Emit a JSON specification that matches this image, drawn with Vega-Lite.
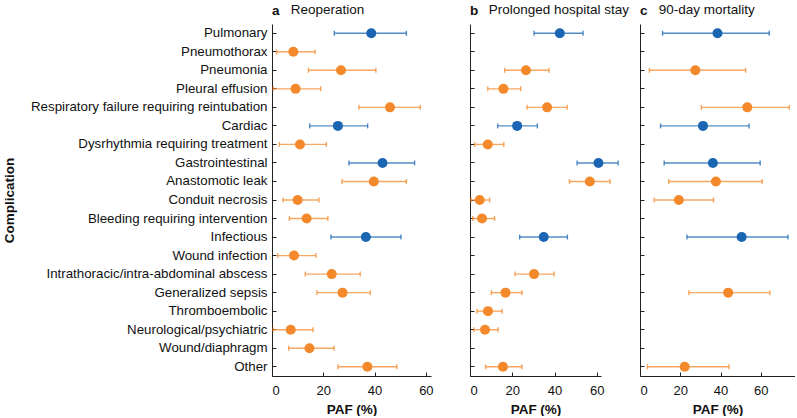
{
  "$schema": "https://vega.github.io/schema/vega-lite/v6.json",
  "padding": {"left": 2, "top": 2, "right": 0, "bottom": 0},
  "bounds": "flush",
  "spacing": 39,
  "config": {
    "font": "Liberation Sans",
    "view": {"stroke": null},
    "axis": {
      "domainColor": "#222222",
      "tickColor": "#222222",
      "labelColor": "#111111",
      "titleColor": "#111111",
      "labelFontSize": 13,
      "titleFontSize": 13.5,
      "titleFontWeight": "bold",
      "grid": false,
      "tickSize": -4,
      "labelLimit": 400
    },
    "title": {"anchor": "start", "frame": "group", "fontSize": 13.5, "fontWeight": "bold", "color": "#111111", "subtitleFontSize": 13.5, "subtitleColor": "#111111", "subtitlePadding": -14.5, "offset": 6}
  },
  "datasets": {
    "d": [
      {"outcome": "a", "comp": "Pulmonary", "kind": "cat", "paf": 38.7, "lo": 24.3, "hi": 52.4},
      {"outcome": "a", "comp": "Pneumothorax", "kind": "sub", "paf": 8.3, "lo": 1.8, "hi": 16.8},
      {"outcome": "a", "comp": "Pneumonia", "kind": "sub", "paf": 26.9, "lo": 14.2, "hi": 40.5},
      {"outcome": "a", "comp": "Pleural effusion", "kind": "sub", "paf": 9.2, "lo": 0.5, "hi": 19.0},
      {"outcome": "a", "comp": "Respiratory failure requiring reintubation", "kind": "sub", "paf": 46.0, "lo": 33.9, "hi": 57.8},
      {"outcome": "a", "comp": "Cardiac", "kind": "cat", "paf": 25.7, "lo": 14.7, "hi": 37.3},
      {"outcome": "a", "comp": "Dysrhythmia requiring treatment", "kind": "sub", "paf": 10.9, "lo": 2.9, "hi": 21.2},
      {"outcome": "a", "comp": "Gastrointestinal", "kind": "cat", "paf": 43.1, "lo": 30.0, "hi": 55.6},
      {"outcome": "a", "comp": "Anastomotic leak", "kind": "sub", "paf": 39.7, "lo": 27.3, "hi": 52.4},
      {"outcome": "a", "comp": "Conduit necrosis", "kind": "sub", "paf": 10.0, "lo": 4.3, "hi": 18.3},
      {"outcome": "a", "comp": "Bleeding requiring intervention", "kind": "sub", "paf": 13.5, "lo": 6.8, "hi": 21.8},
      {"outcome": "a", "comp": "Infectious", "kind": "cat", "paf": 36.6, "lo": 23.0, "hi": 50.3},
      {"outcome": "a", "comp": "Wound infection", "kind": "sub", "paf": 8.6, "lo": 2.2, "hi": 17.1},
      {"outcome": "a", "comp": "Intrathoracic/intra-abdominal abscess", "kind": "sub", "paf": 23.3, "lo": 13.0, "hi": 34.4},
      {"outcome": "a", "comp": "Generalized sepsis", "kind": "sub", "paf": 27.5, "lo": 17.5, "hi": 38.3},
      {"outcome": "a", "comp": "Neurological/psychiatric", "kind": "sub", "paf": 7.3, "lo": 0.5, "hi": 16.0},
      {"outcome": "a", "comp": "Wound/diaphragm", "kind": "sub", "paf": 14.6, "lo": 6.5, "hi": 24.2},
      {"outcome": "a", "comp": "Other", "kind": "sub", "paf": 37.2, "lo": 25.7, "hi": 48.7},

      {"outcome": "b", "comp": "Pulmonary", "kind": "cat", "paf": 42.5, "lo": 30.3, "hi": 53.5},
      {"outcome": "b", "comp": "Pneumonia", "kind": "sub", "paf": 26.5, "lo": 16.4, "hi": 37.4},
      {"outcome": "b", "comp": "Pleural effusion", "kind": "sub", "paf": 15.8, "lo": 8.4, "hi": 24.0},
      {"outcome": "b", "comp": "Respiratory failure requiring reintubation", "kind": "sub", "paf": 36.5, "lo": 27.0, "hi": 46.0},
      {"outcome": "b", "comp": "Cardiac", "kind": "cat", "paf": 22.3, "lo": 13.1, "hi": 31.9},
      {"outcome": "b", "comp": "Dysrhythmia requiring treatment", "kind": "sub", "paf": 8.4, "lo": 2.2, "hi": 16.0},
      {"outcome": "b", "comp": "Gastrointestinal", "kind": "cat", "paf": 60.8, "lo": 50.7, "hi": 70.1},
      {"outcome": "b", "comp": "Anastomotic leak", "kind": "sub", "paf": 56.7, "lo": 47.1, "hi": 66.3},
      {"outcome": "b", "comp": "Conduit necrosis", "kind": "sub", "paf": 4.6, "lo": 0.5, "hi": 9.3},
      {"outcome": "b", "comp": "Bleeding requiring intervention", "kind": "sub", "paf": 5.7, "lo": 1.3, "hi": 11.6},
      {"outcome": "b", "comp": "Infectious", "kind": "cat", "paf": 34.9, "lo": 23.5, "hi": 46.1},
      {"outcome": "b", "comp": "Intrathoracic/intra-abdominal abscess", "kind": "sub", "paf": 30.3, "lo": 21.3, "hi": 39.8},
      {"outcome": "b", "comp": "Generalized sepsis", "kind": "sub", "paf": 16.8, "lo": 10.1, "hi": 24.6},
      {"outcome": "b", "comp": "Thromboembolic", "kind": "sub", "paf": 8.5, "lo": 3.3, "hi": 15.2},
      {"outcome": "b", "comp": "Neurological/psychiatric", "kind": "sub", "paf": 7.1, "lo": 1.8, "hi": 13.3},
      {"outcome": "b", "comp": "Other", "kind": "sub", "paf": 15.6, "lo": 7.4, "hi": 24.6},

      {"outcome": "c", "comp": "Pulmonary", "kind": "cat", "paf": 38.5, "lo": 11.2, "hi": 64.2},
      {"outcome": "c", "comp": "Pneumonia", "kind": "sub", "paf": 27.5, "lo": 4.7, "hi": 52.5},
      {"outcome": "c", "comp": "Respiratory failure requiring reintubation", "kind": "sub", "paf": 53.3, "lo": 30.5, "hi": 74.2},
      {"outcome": "c", "comp": "Cardiac", "kind": "cat", "paf": 31.3, "lo": 10.2, "hi": 54.2},
      {"outcome": "c", "comp": "Gastrointestinal", "kind": "cat", "paf": 36.2, "lo": 12.0, "hi": 59.7},
      {"outcome": "c", "comp": "Anastomotic leak", "kind": "sub", "paf": 37.7, "lo": 14.3, "hi": 60.7},
      {"outcome": "c", "comp": "Conduit necrosis", "kind": "sub", "paf": 19.3, "lo": 7.0, "hi": 36.5},
      {"outcome": "c", "comp": "Infectious", "kind": "cat", "paf": 50.5, "lo": 23.3, "hi": 73.5},
      {"outcome": "c", "comp": "Generalized sepsis", "kind": "sub", "paf": 43.8, "lo": 24.3, "hi": 64.5},
      {"outcome": "c", "comp": "Other", "kind": "sub", "paf": 22.2, "lo": 3.7, "hi": 44.2}
    ]
  },
  "hconcat": [
    {
      "width": 159, "height": 352,
      "title": {"text": "a", "subtitle": "\u200b\u00a0\u00a0\u00a0\u00a0\u00a0Reoperation", "subtitleFontWeight": "normal"},
      "data": {"name": "d"},
      "transform": [{"filter": "datum.outcome === 'a'"}],
      "encoding": {
        "y": {"field": "comp", "type": "nominal",
          "scale": {"domain": ["Pulmonary","Pneumothorax","Pneumonia","Pleural effusion","Respiratory failure requiring reintubation","Cardiac","Dysrhythmia requiring treatment","Gastrointestinal","Anastomotic leak","Conduit necrosis","Bleeding requiring intervention","Infectious","Wound infection","Intrathoracic/intra-abdominal abscess","Generalized sepsis","Thromboembolic","Neurological/psychiatric","Wound/diaphragm","Other"]},
          "axis": {"title": "Complication", "labelPadding": 9, "labelFontSize": 13.3, "titlePadding": 56}}
      },
      "layer": [
        {"mark": {"type": "errorbar", "ticks": {"size": 5}, "thickness": 1.4, "opacity": 0.75},
         "encoding": {
           "x": {"field": "lo", "type": "quantitative", "scale": {"domain": [0, 62], "nice": false}, "axis": {"values": [0, 20, 40, 60], "title": "PAF (%)", "labelPadding": 12, "titlePadding": 5}},
           "x2": {"field": "hi"},
           "color": {"field": "kind", "type": "nominal", "scale": {"domain": ["cat", "sub"], "range": ["#1a66b2", "#f4892b"]}, "legend": null}
         }},
        {"mark": {"type": "circle", "size": 100, "opacity": 1},
         "encoding": {
           "x": {"field": "paf", "type": "quantitative", "title": "PAF (%)"},
           "color": {"field": "kind", "type": "nominal", "legend": null}
         }}
      ]
    },
    {
      "width": 131, "height": 352,
      "title": {"text": "b", "subtitle": "\u200b\u00a0\u00a0\u00a0\u00a0\u00a0Prolonged hospital stay", "subtitleFontWeight": "normal"},
      "data": {"name": "d"},
      "transform": [{"filter": "datum.outcome === 'b'"}],
      "encoding": {
        "y": {"field": "comp", "type": "nominal",
          "scale": {"domain": ["Pulmonary","Pneumothorax","Pneumonia","Pleural effusion","Respiratory failure requiring reintubation","Cardiac","Dysrhythmia requiring treatment","Gastrointestinal","Anastomotic leak","Conduit necrosis","Bleeding requiring intervention","Infectious","Wound infection","Intrathoracic/intra-abdominal abscess","Generalized sepsis","Thromboembolic","Neurological/psychiatric","Wound/diaphragm","Other"]},
          "axis": {"title": null, "labels": false}}
      },
      "layer": [
        {"mark": {"type": "errorbar", "ticks": {"size": 5}, "thickness": 1.4, "opacity": 0.75},
         "encoding": {
           "x": {"field": "lo", "type": "quantitative", "scale": {"domain": [0, 62], "nice": false}, "axis": {"values": [0, 20, 40, 60], "title": "PAF (%)", "labelPadding": 12, "titlePadding": 5}},
           "x2": {"field": "hi"},
           "color": {"field": "kind", "type": "nominal", "scale": {"domain": ["cat", "sub"], "range": ["#1a66b2", "#f4892b"]}, "legend": null}
         }},
        {"mark": {"type": "circle", "size": 100, "opacity": 1},
         "encoding": {
           "x": {"field": "paf", "type": "quantitative", "title": "PAF (%)"},
           "color": {"field": "kind", "type": "nominal", "legend": null}
         }}
      ]
    },
    {
      "width": 155, "height": 352,
      "title": {"text": "c", "subtitle": "\u200b\u00a0\u00a0\u00a0\u00a0\u00a090-day mortality", "subtitleFontWeight": "normal"},
      "data": {"name": "d"},
      "transform": [{"filter": "datum.outcome === 'c'"}],
      "encoding": {
        "y": {"field": "comp", "type": "nominal",
          "scale": {"domain": ["Pulmonary","Pneumothorax","Pneumonia","Pleural effusion","Respiratory failure requiring reintubation","Cardiac","Dysrhythmia requiring treatment","Gastrointestinal","Anastomotic leak","Conduit necrosis","Bleeding requiring intervention","Infectious","Wound infection","Intrathoracic/intra-abdominal abscess","Generalized sepsis","Thromboembolic","Neurological/psychiatric","Wound/diaphragm","Other"]},
          "axis": {"title": null, "labels": false}}
      },
      "layer": [
        {"mark": {"type": "errorbar", "ticks": {"size": 5}, "thickness": 1.4, "opacity": 0.75},
         "encoding": {
           "x": {"field": "lo", "type": "quantitative", "scale": {"domain": [0, 77], "nice": false}, "axis": {"values": [0, 20, 40, 60], "title": "PAF (%)", "labelPadding": 12, "titlePadding": 5}},
           "x2": {"field": "hi"},
           "color": {"field": "kind", "type": "nominal", "scale": {"domain": ["cat", "sub"], "range": ["#1a66b2", "#f4892b"]}, "legend": null}
         }},
        {"mark": {"type": "circle", "size": 100, "opacity": 1},
         "encoding": {
           "x": {"field": "paf", "type": "quantitative", "title": "PAF (%)"},
           "color": {"field": "kind", "type": "nominal", "legend": null}
         }}
      ]
    }
  ]
}
